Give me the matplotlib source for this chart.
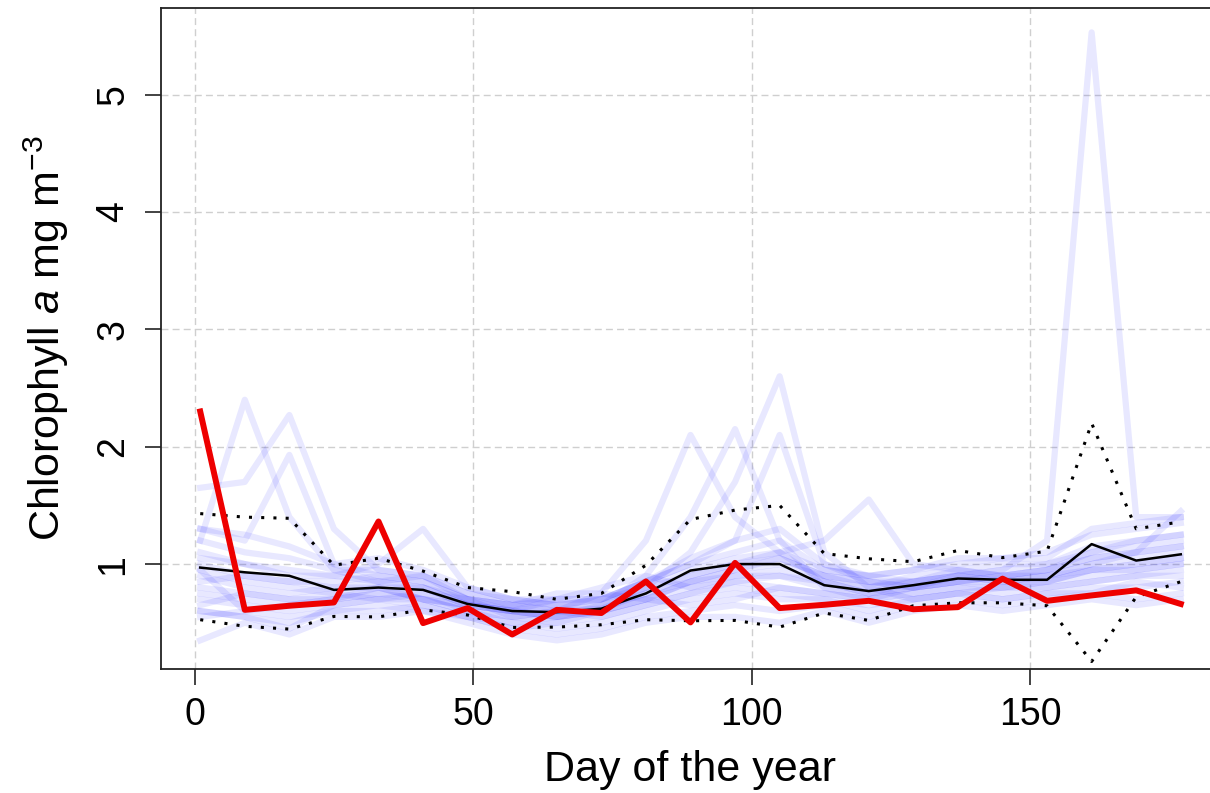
import matplotlib.pyplot as plt

plt.rcParams['font.family'] = ['Liberation Sans', 'DejaVu Sans']
plt.rcParams['mathtext.fontset'] = 'custom'
plt.rcParams['mathtext.rm'] = 'Liberation Sans'
plt.rcParams['mathtext.it'] = 'Liberation Sans:italic'

# 8-day composite days
days = [1, 9, 17, 25, 33, 41, 49, 57, 65, 73, 81, 89, 97, 105, 113, 121,
        129, 137, 145, 153, 161, 169, 177]

# chlorophyll a of the previous years (one list per year)
past_years = [
    [0.95, 0.85, 0.80, 0.75, 0.80, 0.70, 0.65, 0.60, 0.55, 0.60, 0.70, 0.80, 0.90, 0.95, 0.85, 0.80, 0.85, 0.90, 0.95, 1.20, 5.53, 1.40, 1.40],
    [1.20, 2.40, 1.40, 0.95, 0.85, 0.80, 0.70, 0.65, 0.60, 0.62, 0.75, 0.90, 1.00, 1.10, 0.95, 0.90, 0.85, 0.95, 0.90, 0.95, 1.10, 1.20, 1.25],
    [1.65, 1.70, 2.27, 1.30, 0.95, 0.90, 0.75, 0.70, 0.65, 0.70, 0.85, 1.05, 1.20, 1.30, 1.00, 0.90, 0.95, 1.00, 1.05, 1.10, 1.25, 1.30, 1.35],
    [1.30, 1.20, 1.93, 1.00, 0.90, 0.85, 0.70, 0.60, 0.55, 0.60, 0.70, 0.85, 0.95, 1.05, 0.90, 0.85, 0.80, 0.90, 0.85, 0.90, 1.00, 1.10, 1.15],
    [0.80, 0.75, 0.70, 0.70, 0.75, 0.70, 0.60, 0.55, 0.60, 0.75, 1.20, 2.10, 1.40, 1.10, 0.85, 0.75, 0.80, 0.85, 0.80, 0.85, 0.95, 1.00, 1.05],
    [0.70, 0.65, 0.60, 0.65, 0.70, 0.65, 0.55, 0.50, 0.55, 0.65, 0.90, 1.40, 2.15, 1.20, 0.80, 0.70, 0.75, 0.80, 0.80, 0.85, 0.90, 0.95, 1.00],
    [0.60, 0.55, 0.50, 0.60, 0.65, 0.60, 0.55, 0.45, 0.50, 0.60, 0.80, 1.10, 1.70, 2.60, 1.10, 0.80, 0.70, 0.75, 0.80, 0.80, 0.85, 0.90, 0.95],
    [0.90, 0.80, 0.75, 0.80, 0.85, 0.80, 0.65, 0.60, 0.65, 0.70, 0.85, 1.00, 1.20, 2.10, 1.00, 0.85, 0.80, 0.85, 0.90, 0.90, 1.00, 1.05, 1.10],
    [1.00, 0.90, 0.85, 0.85, 0.90, 0.85, 0.70, 0.65, 0.70, 0.70, 0.80, 0.95, 1.05, 1.10, 1.20, 1.55, 1.00, 0.95, 0.90, 0.95, 1.05, 1.10, 1.15],
    [1.10, 1.00, 0.95, 0.90, 1.00, 1.30, 0.80, 0.70, 0.65, 0.65, 0.75, 0.85, 0.95, 1.00, 0.90, 0.85, 0.85, 0.90, 0.95, 1.00, 1.10, 1.15, 1.20],
    [0.35, 0.50, 0.40, 0.55, 0.55, 0.60, 0.50, 0.40, 0.35, 0.40, 0.50, 0.55, 0.55, 0.50, 0.60, 0.50, 0.60, 0.65, 0.60, 0.65, 0.70, 0.65, 0.70],
    [0.55, 0.60, 0.55, 0.60, 0.60, 0.65, 0.55, 0.45, 0.40, 0.45, 0.55, 0.60, 0.65, 0.60, 0.65, 0.55, 0.65, 0.70, 0.65, 0.70, 0.75, 0.70, 0.75],
    [0.60, 0.55, 0.45, 0.65, 0.70, 0.70, 0.60, 0.50, 0.45, 0.50, 0.60, 0.70, 0.75, 0.70, 0.70, 0.65, 0.70, 0.75, 0.70, 0.75, 0.80, 0.80, 0.85],
    [0.75, 0.70, 0.65, 0.70, 0.75, 0.75, 0.60, 0.55, 0.50, 0.55, 0.65, 0.75, 0.85, 0.80, 0.75, 0.70, 0.75, 0.80, 0.75, 0.80, 0.85, 0.90, 0.90],
    [0.85, 0.90, 0.85, 0.80, 0.80, 0.80, 0.65, 0.60, 0.55, 0.60, 0.70, 0.85, 0.90, 0.90, 0.80, 0.75, 0.80, 0.85, 0.85, 0.85, 0.95, 0.95, 1.00],
    [1.20, 1.10, 1.05, 0.95, 0.95, 0.90, 0.75, 0.65, 0.60, 0.65, 0.80, 0.90, 1.00, 1.05, 0.90, 0.80, 0.90, 0.95, 1.00, 1.00, 1.15, 1.20, 1.25],
    [1.30, 1.25, 1.15, 1.00, 1.05, 0.95, 0.80, 0.70, 0.70, 0.70, 0.85, 1.00, 1.10, 1.20, 0.95, 0.90, 0.95, 1.05, 1.05, 1.05, 1.30, 1.35, 1.40],
    [0.65, 0.75, 0.70, 0.75, 0.70, 0.75, 0.70, 0.55, 0.60, 0.55, 0.65, 0.75, 0.80, 0.75, 0.70, 0.60, 0.70, 0.75, 0.70, 0.75, 0.75, 0.85, 0.80],
    [0.95, 0.60, 0.65, 0.70, 0.80, 0.70, 0.65, 0.60, 0.70, 0.80, 0.90, 0.80, 0.85, 0.90, 0.85, 0.75, 0.85, 0.90, 0.85, 0.90, 0.95, 1.00, 1.05],
    [1.05, 1.00, 0.90, 0.90, 0.85, 0.90, 0.70, 0.65, 0.75, 0.75, 0.70, 0.65, 0.70, 0.80, 0.75, 0.70, 0.80, 0.85, 0.90, 0.95, 1.05, 1.10, 1.45],
]

# climatological mean and mean +/- one standard deviation
clim_mean = [0.97, 0.93, 0.90, 0.78, 0.80, 0.78, 0.66, 0.60, 0.59, 0.62, 0.75, 0.945, 1.00, 1.00, 0.82, 0.77, 0.82, 0.877, 0.866, 0.866, 1.17, 1.03, 1.083]
clim_upper = [1.43, 1.40, 1.39, 0.99, 1.05, 0.94, 0.80, 0.765, 0.70, 0.75, 0.99, 1.38, 1.46, 1.50, 1.09, 1.045, 1.02, 1.116, 1.055, 1.11, 2.20, 1.30, 1.36]
clim_lower = [0.526, 0.47, 0.446, 0.554, 0.55, 0.61, 0.566, 0.46, 0.463, 0.483, 0.526, 0.517, 0.52, 0.463, 0.583, 0.52, 0.645, 0.67, 0.67, 0.645, 0.17, 0.72, 0.85]

# current year
this_year = [2.30, 0.61, 0.645, 0.673, 1.363, 0.497, 0.625, 0.40, 0.61, 0.583, 0.852, 0.503, 1.01, 0.625, 0.653, 0.687, 0.615, 0.633, 0.876, 0.687, 0.733, 0.776, 0.66]

fig = plt.figure(figsize=(12.1, 7.93), dpi=100)
ax = fig.add_axes([161 / 1210, (793 - 669) / 793, (1220 - 161) / 1210, (669 - 8) / 793])

for chl in past_years:
    ax.plot(days, chl, color='blue', alpha=0.09, lw=4.5, solid_joinstyle='round')

ax.plot(days, clim_mean, color='black', lw=1.8)
ax.plot(days, clim_upper, color='black', lw=2.2, linestyle=(0, (1, 3)))
ax.plot(days, clim_lower, color='black', lw=2.2, linestyle=(0, (1, 3)))
ax.plot(days, this_year, color='#ee0000', lw=4.3)

ax.set_xlim(-6.04, 184.04)
ax.set_ylim(0.106, 5.738)
ax.set_xticks([0, 50, 100, 150])
ax.set_yticks([1, 2, 3, 4, 5])
ax.grid(True, color='#cfcfcf', linestyle=(0, (5, 3)), lw=1.0)
ax.set_axisbelow(True)

for side in ['left', 'bottom', 'top']:
    ax.spines[side].set_linewidth(1.3)
    ax.spines[side].set_color('#222222')
ax.spines['right'].set_visible(False)

ax.tick_params(direction='out', length=11.5, width=1.2, color='#222222', labelsize=27)
ax.tick_params(axis='x', pad=9)
ax.tick_params(axis='y', pad=10, labelrotation=90)
for lab in ax.get_yticklabels():
    lab.set_va('center')

ax.set_xlabel('Day of the year', fontsize=31)
ax.xaxis.set_label_coords(0.5, -0.122)
ax.set_ylabel(r'Chlorophyll $\mathit{a}$ mg m$^{-3}$', fontsize=31)
ax.yaxis.set_label_coords(-0.085, 0.5)

fig.savefig('out.png', dpi=100)
